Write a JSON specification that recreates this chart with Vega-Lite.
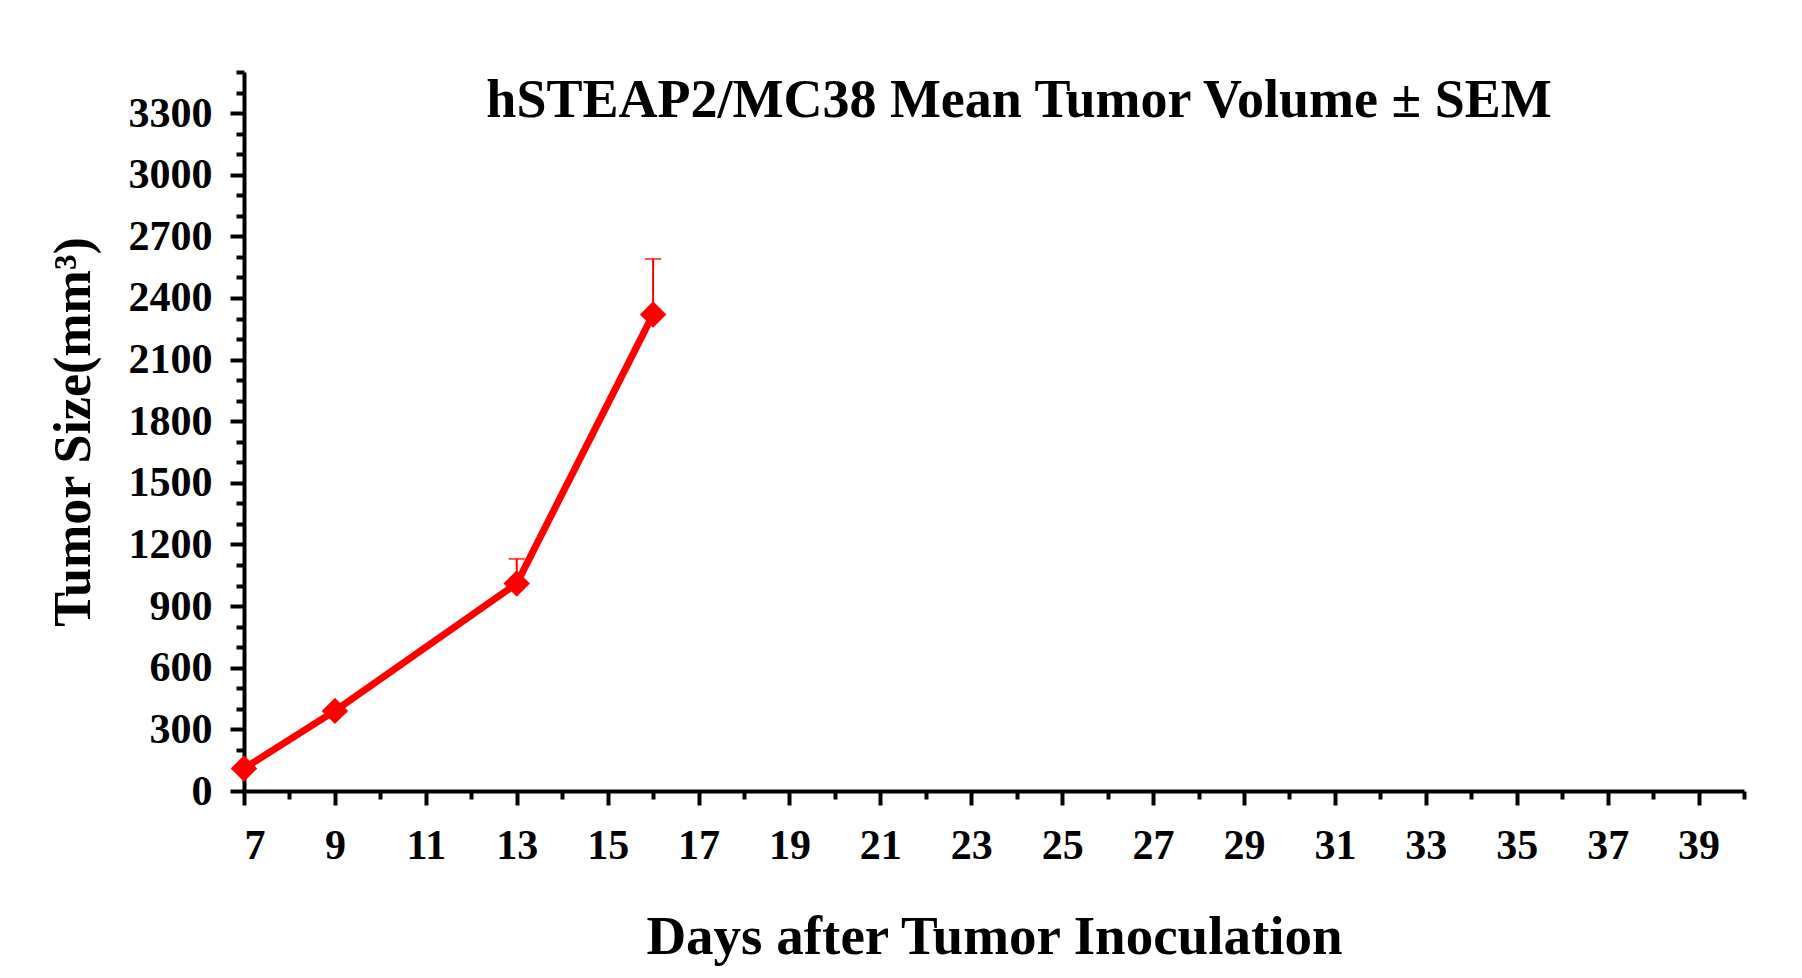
{
"$schema": "https://vega.github.io/schema/vega-lite/v6.json",
"autosize": "none",
"width": 1500,
"height": 719,
"padding": {"left": 244, "top": 72, "right": 58, "bottom": 187},
"background": "white",
"title": {"text": "hSTEAP2/MC38 Mean Tumor Volume  ±  SEM", "font": "Liberation Serif", "fontSize": 54, "fontWeight": "bold", "color": "black", "dx": 25, "offset": -58},
"data": {"values": [
  {"day": 7, "size": 110, "upper": 110},
  {"day": 9, "size": 390, "upper": 390},
  {"day": 13, "size": 1010, "upper": 1130},
  {"day": 16, "size": 2320, "upper": 2590}
]},
"layer": [
  {
    "mark": {"type": "rule", "color": "red", "strokeWidth": 2},
    "encoding": {
      "x": {"field": "day", "type": "quantitative", "scale": {"domain": [7, 40], "nice": false, "zero": false},
        "axis": {"orient": "bottom", "values": [7,9,11,13,15,17,19,21,23,25,27,29,31,33,35,37,39], "format": "d", "title": "Days after Tumor Inoculation", "titlePadding": 44, "labelPadding": 20, "tickSize": 14, "tickWidth": 4, "domainWidth": 4, "domainColor": "black", "tickColor": "black", "grid": false, "labelFont": "Liberation Serif", "labelFontSize": 42, "labelFontWeight": "bold", "labelColor": "black", "titleFont": "Liberation Serif", "titleFontSize": 55, "titleFontWeight": "bold", "titleColor": "black"}},
      "y": {"field": "size", "type": "quantitative", "scale": {"domain": [0, 3500], "nice": false},
        "axis": {"orient": "left", "values": [0,300,600,900,1200,1500,1800,2100,2400,2700,3000,3300], "format": "d", "title": "Tumor Size(mm³)", "titlePadding": 28, "labelPadding": 18, "tickSize": 14, "tickWidth": 4, "domainWidth": 4, "domainColor": "black", "tickColor": "black", "grid": false, "labelFont": "Liberation Serif", "labelFontSize": 42, "labelFontWeight": "bold", "labelColor": "black", "titleFont": "Liberation Serif", "titleFontSize": 52, "titleFontWeight": "bold", "titleColor": "black"}},
      "y2": {"field": "upper"}
    }
  },
  {
    "mark": {"type": "tick", "color": "red", "thickness": 2, "size": 16, "orient": "horizontal"},
    "transform": [{"filter": "datum.upper > datum.size"}],
    "encoding": {
      "x": {"field": "day", "type": "quantitative", "axis": null},
      "y": {"field": "upper", "type": "quantitative", "axis": null}
    }
  },
  {
    "mark": {"type": "line", "color": "red", "strokeWidth": 7},
    "encoding": {
      "x": {"field": "day", "type": "quantitative", "axis": null},
      "y": {"field": "size", "type": "quantitative", "axis": null}
    }
  },
  {
    "mark": {"type": "point", "shape": "diamond", "filled": true, "color": "red", "size": 700, "opacity": 1},
    "encoding": {
      "x": {"field": "day", "type": "quantitative", "axis": null},
      "y": {"field": "size", "type": "quantitative", "axis": null}
    }
  },
  {
    "mark": {"type": "point", "opacity": 0},
    "encoding": {
      "x": {"field": "day", "type": "quantitative",
        "axis": {"orient": "bottom", "values": [8,10,12,14,16,18,20,22,24,26,28,30,32,34,36,38,40], "labels": false, "title": null, "tickSize": 8, "tickWidth": 4, "tickColor": "black", "domain": false, "grid": false}},
      "y": {"field": "size", "type": "quantitative",
        "axis": {"orient": "left", "values": [100,200,400,500,700,800,1000,1100,1300,1400,1600,1700,1900,2000,2200,2300,2500,2600,2800,2900,3100,3200,3400,3500], "labels": false, "title": null, "tickSize": 8, "tickWidth": 4, "tickColor": "black", "domain": false, "grid": false}}
    }
  }
],
"resolve": {"axis": {"x": "independent", "y": "independent"}},
"config": {"view": {"stroke": null}}
}
